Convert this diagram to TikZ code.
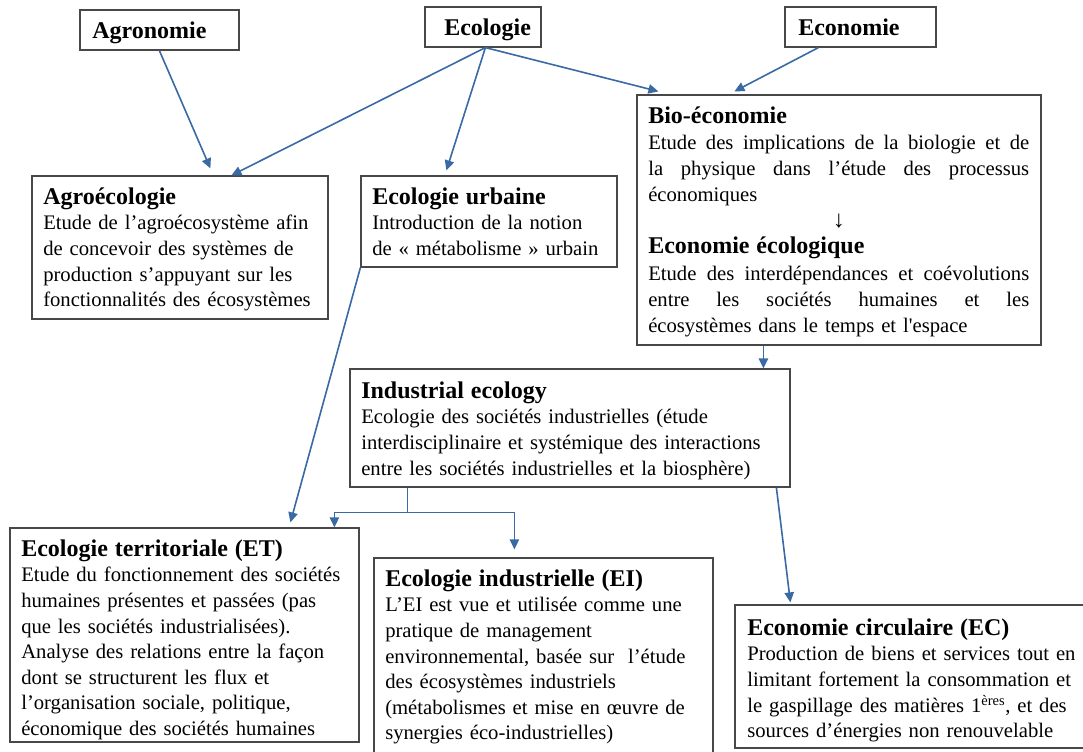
\documentclass[tikz,border=0pt]{standalone}
\usepackage{fontspec}
\setmainfont{Liberation Serif}
\usetikzlibrary{arrows.meta,fit,calc}
\setlength{\parindent}{0pt}
\definecolor{arr}{RGB}{58,106,164}
\definecolor{bord}{RGB}{72,72,72}
\newcommand{\hdl}[1]{{\fontsize{18}{19.2}\selectfont\bfseries\rule{0pt}{15pt}#1}}
\newcommand{\jl}[1]{\leavevmode\hbox to 285.75pt{#1}}
\tikzset{
  box/.style={draw=bord, line width=0.9pt, inner sep=0pt, rectangle},
  txt/.style={anchor=north west, inner sep=0pt, align=left, font=\fontsize{15.5}{19.2}\selectfont},
  ttl/.style={anchor=base west, inner sep=0pt, font=\fontsize{18}{20}\selectfont\bfseries},
  con/.style={draw=arr, line width=1.2pt, -{Triangle[width=7pt,length=7.5pt]}},
  lin/.style={draw=arr, line width=1pt},
  lina/.style={draw=arr, line width=1pt, -{Triangle[width=7pt,length=7.5pt]}}
}
\begin{document}
\begin{tikzpicture}[x=0.75pt,y=-0.75pt]
\useasboundingbox (0,0) rectangle (1083,751);
\fill[white] (0,0) rectangle (1083,751);

% top boxes
\node[box, fit={(80,10)(239,50)}] (agro) {};
\node[ttl] (agroT) at (92,38) {Agronomie};
\node[box, fit={(425,7)(541,47)}] (eco) {};
\node[ttl] (ecoT) at (444,35) {Ecologie};
\node[box, fit={(785,7)(936,47)}] (econ) {};
\node[ttl] (econT) at (798,35) {Economie};

% second row
\node[box, fit={(32,176)(328,319)}] (agroeco) {};
\node[txt, text width=300pt] (agroecoT) at (43,184) {\hdl{Agroécologie}\\
Etude de l’agroécosystème afin\\
de concevoir des systèmes de\\
production s’appuyant sur les\\
fonctionnalités des écosystèmes};

\node[box, fit={(361,176)(617,267)}] (urb) {};
\node[txt, text width=250pt] (urbT) at (372,184) {\hdl{Ecologie urbaine}\\
Introduction de la notion\\
de «~métabolisme~» urbain};

\node[box, fit={(637,95)(1041,345)}] (bio) {};
\node[txt, text width=285.75pt, font=\fontsize{15.5}{19.6}\selectfont] (bioT) at (648,103) {\hdl{Bio-économie}\\
\jl{Etude\hfill des\hfill implications\hfill de\hfill la\hfill biologie\hfill et\hfill de}\\
\jl{la\hfill physique\hfill dans\hfill l’étude\hfill des\hfill processus}\\
économiques\\
\jl{\hfil{\fontsize{18}{19.6}\selectfont ↓}\hfil}\\
\hdl{Economie écologique}\\
\jl{Etude\hfill des\hfill interdépendances\hfill et\hfill coévolutions}\\
\jl{entre\hfill les\hfill sociétés\hfill humaines\hfill et\hfill les}\\
écosystèmes dans le temps et l\textquotesingle espace};

% third row
\node[box, fit={(350,369)(790,487)}] (ind) {};
\node[txt, text width=400pt] (indT) at (361,378) {\hdl{Industrial ecology}\\
Ecologie des sociétés industrielles (étude\\
interdisciplinaire et systémique des interactions\\
entre les sociétés industrielles et la biosphère)};

% bottom row
\node[box, fit={(10,528)(359,742)}] (et) {};
\node[txt, text width=300pt] (etT) at (21,536) {\hdl{Ecologie territoriale (ET)}\\
Etude du fonctionnement des sociétés\\
humaines présentes et passées (pas\\
que les sociétés industrialisées).\\
Analyse des relations entre la façon\\
dont se structurent les flux et\\
l’organisation sociale, politique,\\
économique des sociétés humaines};

\node[box, fit={(374,558)(713,760)}] (ei) {};
\node[txt, text width=300pt] (eiT) at (385,566) {\hdl{Ecologie industrielle (EI)}\\
L’EI est vue et utilisée comme une\\
pratique de management\\
environnemental, basée sur~ l’étude\\
des écosystèmes industriels\\
(métabolismes et mise en œuvre de\\
synergies éco-industrielles)};

\node[box, fit={(735,605)(1090,748)}] (ec) {};
\node[txt, text width=300pt] (ecT) at (747,615) {\hdl{Economie circulaire (EC)}\\
Production de biens et services tout en\\
limitant fortement la consommation et\\
le gaspillage des matières 1\textsuperscript{ères}, et des\\
sources d’énergies non renouvelable};

% connectors
\draw[con] ($(agro.south west)+(80,0)$) -- ($(agroeco.north west)+(179,-7)$);
\draw[con] ($(eco.south west)+(61,0)$) -- ($(agroeco.north west)+(200,0)$);
\draw[con] ($(eco.south west)+(61,0)$) -- ($(urb.north west)+(86,-5)$);
\draw[con] ($(eco.south west)+(61,0)$) -- ($(bio.north west)+(22,-3)$);
\draw[con] ($(econ.south west)+(34,0)$) -- ($(bio.north west)+(98,-3)$);
\draw[con] ($(bio.south west)+(127,0)$) -- ($(ind.north west)+(414,0)$);
\draw[con] (urb.south west) -- ($(et.north west)+(281,-5)$);
\coordinate (split) at ($(ind.south west)+(58,25)$);
\draw[lin] ($(ind.south west)+(58,0)$) -- (split);
\draw[lina] (split) -| ($(et.north west)+(325,0)$);
\draw[lina] (split) -| ($(ei.north west)+(141,-8)$);
\draw[con] ($(ind.south west)+(427,0)$) -- ($(ec.north west)+(56,-2)$);
\end{tikzpicture}
\end{document}
